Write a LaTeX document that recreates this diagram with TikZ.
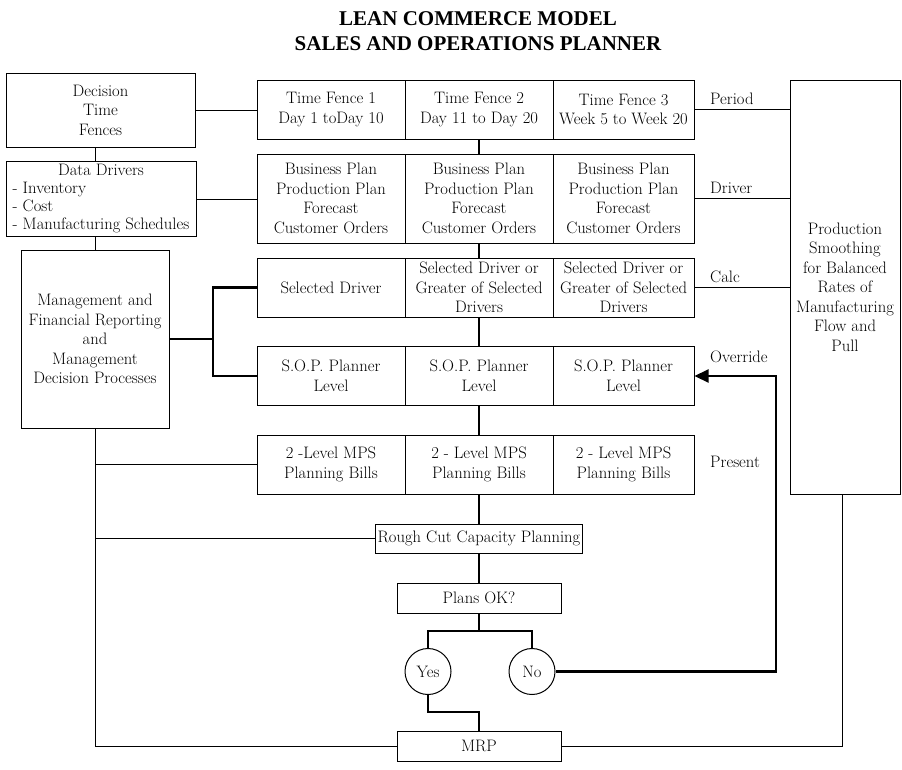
\documentclass[tikz,border=0pt]{standalone}
\usepackage{fontspec}
\newfontfamily\headfont{Liberation Serif}
\usetikzlibrary{arrows.meta,shapes.geometric,calc}
\newcommand\diagfont{\fontsize{16.6}{19.5}\selectfont}
\newcommand\listfont{\fontsize{16.6}{18.2}\selectfont}
\begin{document}
\begin{tikzpicture}[x=1pt,y=-1pt,
  box/.style={draw, line width=1pt, inner sep=1pt, align=center, font=\diagfont},
  wide/.style={minimum width=148pt},
  narrow/.style={minimum width=141pt},
  short/.style={minimum height=59pt},
  tall/.style={minimum height=89pt},
  oval/.style={draw, line width=1pt, ellipse, inner sep=0pt, minimum width=46pt, minimum height=46pt, font=\diagfont},
  link/.style={line width=0.9pt},
  flow/.style={line width=2.2pt},
  tag/.style={anchor=base west, inner sep=0pt, font=\diagfont},
  heading/.style={anchor=base, inner sep=0pt, font=\headfont\bfseries\fontsize{21}{26}\selectfont}]

\path[fill=white, use as bounding box] (0,0) rectangle (902,769);

% title
\node[heading] (title1) at (478,25) {LEAN COMMERCE MODEL};
\node[heading] (title2) at (478,50) {SALES AND OPERATIONS PLANNER};

% left column
\node[box, minimum width=189pt, minimum height=74pt] (dec) at (100.5,110) {Decision\\Time\\Fences};
\node[box, minimum width=190pt, minimum height=74pt] (dd) at (101,199)
  {\listfont\begin{tabular}{@{}l@{}}\multicolumn{1}{@{}c@{}}{Data Drivers}\\- Inventory\\- Cost\\- Manufacturing Schedules\end{tabular}};
\node[box, minimum width=148pt, minimum height=178pt] (mg) at (95,339)
  {Management and\\Financial Reporting\\and\\Management\\Decision Processes};

% planning grid
\node[box, wide, short] (tf1) at (331,109.5) {Time Fence 1\\Day 1 toDay 10};
\node[box, wide, short] (tf2) at (479,109.5) {Time Fence 2\\Day 11 to Day 20};
\node[box, narrow, short] (tf3) at (623.5,109.5) {Time Fence 3\\Week 5 to Week 20};

\node[box, wide, tall] (bp1) at (331,198.5) {Business Plan\\Production Plan\\Forecast\\Customer Orders};
\node[box, wide, tall] (bp2) at (479,198.5) {Business Plan\\Production Plan\\Forecast\\Customer Orders};
\node[box, narrow, tall] (bp3) at (623.5,198.5) {Business Plan\\Production Plan\\Forecast\\Customer Orders};

\node[box, wide, short] (sd1) at (331,287.5) {Selected Driver};
\node[box, wide, short] (sd2) at (479,287.5) {Selected Driver or\\Greater of Selected\\Drivers};
\node[box, narrow, short] (sd3) at (623.5,287.5) {Selected Driver or\\Greater of Selected\\Drivers};

\node[box, wide, short] (sop1) at (331,376) {S.O.P. Planner\\Level};
\node[box, wide, short] (sop2) at (479,376) {S.O.P. Planner\\Level};
\node[box, narrow, short] (sop3) at (623.5,376) {S.O.P. Planner\\Level};

\node[box, wide, short] (mps1) at (331,464.5) {2 -Level MPS\\Planning Bills};
\node[box, wide, short] (mps2) at (479,464.5) {2 - Level MPS\\Planning Bills};
\node[box, narrow, short] (mps3) at (623.5,464.5) {2 - Level MPS\\Planning Bills};

% smoothing box
\node[box, minimum width=110pt, minimum height=414pt] (rb) at (845,287)
  {Production\\Smoothing\\for Balanced\\Rates of\\Manufacturing\\Flow and\\Pull};

% lower flow
\node[box, minimum width=207pt, minimum height=29pt] (rc) at (479,538.5) {Rough Cut Capacity Planning};
\node[box, minimum width=164pt, minimum height=30pt] (ok) at (479,598) {Plans OK?};
\node[oval] (yes) at (428,671.5) {Yes};
\node[oval] (no) at (532,671.5) {No};
\node[box, minimum width=164pt, minimum height=30pt] (mrp) at (479,746) {MRP};

% side labels
\node[tag] (lperiod) at (710,104) {Period};
\node[tag] (ldriver) at (710,193) {Driver};
\node[tag] (lcalc) at (710,282) {Calc};
\node[tag] (loverride) at (710,362) {Override};
\node[tag] (lpresent) at (710,467) {Present};

% thin connectors
\draw[link] (dec.east) -- (dec.east -| tf1.west);
\draw[link] (dd.east) -- (dd.east -| bp1.west);
\draw[link] (dec.south -| mg.north) -- (dd.north -| mg.north);
\draw[link] (dd.south -| mg.north) -- (mg.north);
\draw[link] (tf3.east) -- (tf3.east -| rb.west);
\draw[link] (bp3.east) -- (bp3.east -| rb.west);
\draw[link] (sd3.east) -- (sd3.east -| rb.west);
\draw[link] (mps1.west) -- (mps1.west -| mg.south);
\draw[link] (rc.west) -- (rc.west -| mg.south);
\draw[link] (mrp.west) -| (mg.south);
\draw[link] (mrp.east) -| ([xshift=-3pt]rb.south);

% thick flow lines
\coordinate (br) at (213,339);
\draw[flow] (mg.east) -- (br);
\draw[flow] (sd1.west) -| (br) |- (sop1.west);
\draw[flow] (tf2.south) -- (bp2.north);
\draw[flow] (bp2.south) -- (sd2.north);
\draw[flow] (sd2.south) -- (sop2.north);
\draw[flow] (sop2.south) -- (mps2.north);
\draw[flow] (mps2.south) -- (rc.north);
\draw[flow] (rc.south) -- (ok.north);
\coordinate (fk) at (479,631);
\draw[flow] (ok.south) -- (fk);
\draw[flow] (yes.north) |- (fk) -| (no.north);
\coordinate (nr) at (776,376);
\draw[flow, -{Triangle[length=14pt,width=13pt]}] (no.east) -| (nr) -- (sop3.east);
\coordinate (ym) at (479,712);
\draw[flow] (yes.south) |- (ym) -- (mrp.north);
\end{tikzpicture}
\end{document}
